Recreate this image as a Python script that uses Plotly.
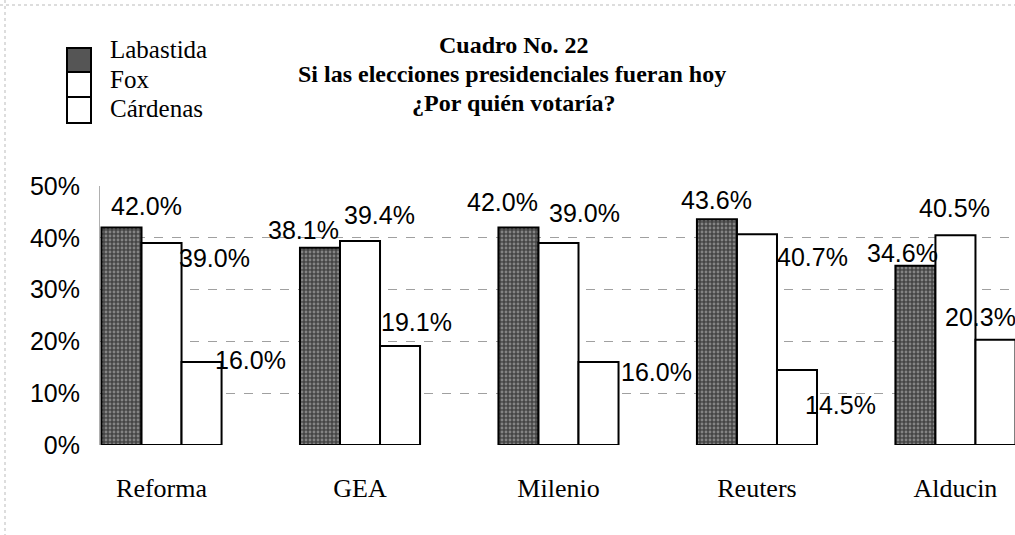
import plotly.graph_objects as go

# ---- data ----
categories = ["Reforma", "GEA", "Milenio", "Reuters", "Alducin"]
series_names = ["Labastida", "Fox", "Cárdenas"]
labastida = [42.0, 38.1, 42.0, 43.6, 34.6]
fox = [39.0, 39.4, 39.0, 40.7, 40.5]
cardenas = [16.0, 19.1, 16.0, 14.5, 20.3]
y_ticks = [0, 10, 20, 30, 40, 50]
title_lines = ["Cuadro No. 22", "Si las elecciones presidenciales fueran hoy", "¿Por quién votaría?"]

# label nudges (px) for each series / category, as placed in the original
label_dx = [[25, -17, -16, -1, -13], [53, 19, 26, 56, -1], [49, 17, 58, 44, -15]]
label_dy = [[21, 18, 25, 19, 13], [-15, 26, 30, -23, 27], [2, 24, -10, -35, 23]]

W, H = 1015, 535
L, R, T, B = 100, 0, 186, 90
PW, PH = W - L - R, H - T - B


def px_x(x):
    return (x - L) / PW


def px_y(y):
    return (H - B - y) / PH


SERIF = "Liberation Serif"
SANS = "Liberation Sans"

fig = go.Figure()
values = [labastida, fox, cardenas]
styles = [
    dict(color="#4a4a4a", line=dict(color="black", width=2),
         pattern=dict(shape=".", fgcolor="#c4c4c4", bgcolor="#454545", size=4, solidity=0.4)),
    dict(color="white", line=dict(color="black", width=2)),
    dict(color="white", line=dict(color="black", width=2)),
]
for name, vals, st in zip(series_names, values, styles):
    fig.add_trace(go.Bar(x=categories, y=vals, name=name, marker=st, showlegend=False,
                         hoverinfo="skip"))

# data labels
for si, vals in enumerate(values):
    for ci, v in enumerate(vals):
        fig.add_annotation(
            x=ci + (si - 1) * 0.2, y=v, xref="x", yref="y",
            text=f"{v:.1f}%", showarrow=False,
            xanchor="center", yanchor="middle",
            xshift=label_dx[si][ci], yshift=label_dy[si][ci],
            font=dict(family=SANS, size=25, color="black"),
        )

# title
title_pos = [(514, 45), (512, 74), (514, 103)]
for txt, (tx, ty) in zip(title_lines, title_pos):
    fig.add_annotation(
        x=px_x(tx), y=px_y(ty), xref="paper", yref="paper",
        text=f"<b>{txt}</b>", showarrow=False, xanchor="center", yanchor="middle",
        font=dict(family=SERIF, size=24, color="black"),
    )

# manual legend
leg_boxes = [(48, 72), (72, 97), (97, 123)]
leg_text_y = [50, 80, 109]
leg_fill = ["#555555", "white", "white"]
for name, (y0, y1), ty, fc in zip(series_names, leg_boxes, leg_text_y, leg_fill):
    fig.add_shape(type="rect", xref="paper", yref="paper",
                  x0=px_x(67), x1=px_x(91), y0=px_y(y1), y1=px_y(y0),
                  fillcolor=fc, line=dict(color="black", width=2))
    fig.add_annotation(
        x=px_x(108), y=px_y(ty), xref="paper", yref="paper",
        text=name, showarrow=False, xanchor="left", yanchor="middle",
        font=dict(family=SERIF, size=25, color="black"),
    )

# faint scan border lines
fig.add_shape(type="line", xref="paper", yref="paper", x0=px_x(0), x1=px_x(W), y0=px_y(5), y1=px_y(5),
              line=dict(color="#bbbbbb", width=1, dash="dot"))
fig.add_shape(type="line", xref="paper", yref="paper", x0=px_x(5), x1=px_x(5), y0=px_y(0), y1=px_y(H),
              line=dict(color="#bbbbbb", width=1, dash="dot"))

fig.update_layout(
    width=W, height=H,
    margin=dict(l=L, r=R, t=T, b=B, pad=0),
    paper_bgcolor="white", plot_bgcolor="white",
    barmode="group", bargap=0.395, bargroupgap=0,
    showlegend=False,
    xaxis=dict(
        type="category", range=[-0.31, 4.30],
        tickfont=dict(family=SERIF, size=26, color="black"),
        ticks="outside", ticklen=20, tickcolor="rgba(0,0,0,0)",
        showgrid=False, showline=False, zeroline=False,
    ),
    yaxis=dict(
        range=[0, 50], tickvals=y_ticks, ticktext=[f"{t}%" for t in y_ticks],
        tickfont=dict(family=SANS, size=25, color="black"),
        ticks="outside", ticklen=14, tickcolor="rgba(0,0,0,0)",
        showgrid=True, gridcolor="#a0a0a0", griddash="dash", gridwidth=1,
        zeroline=False, showline=True, linecolor="#b0b0b0", linewidth=1,
    ),
)

fig.write_html("out.html", config={"displayModeBar": False},
               post_script="document.body.style.margin='0';document.body.style.overflow='hidden';")
